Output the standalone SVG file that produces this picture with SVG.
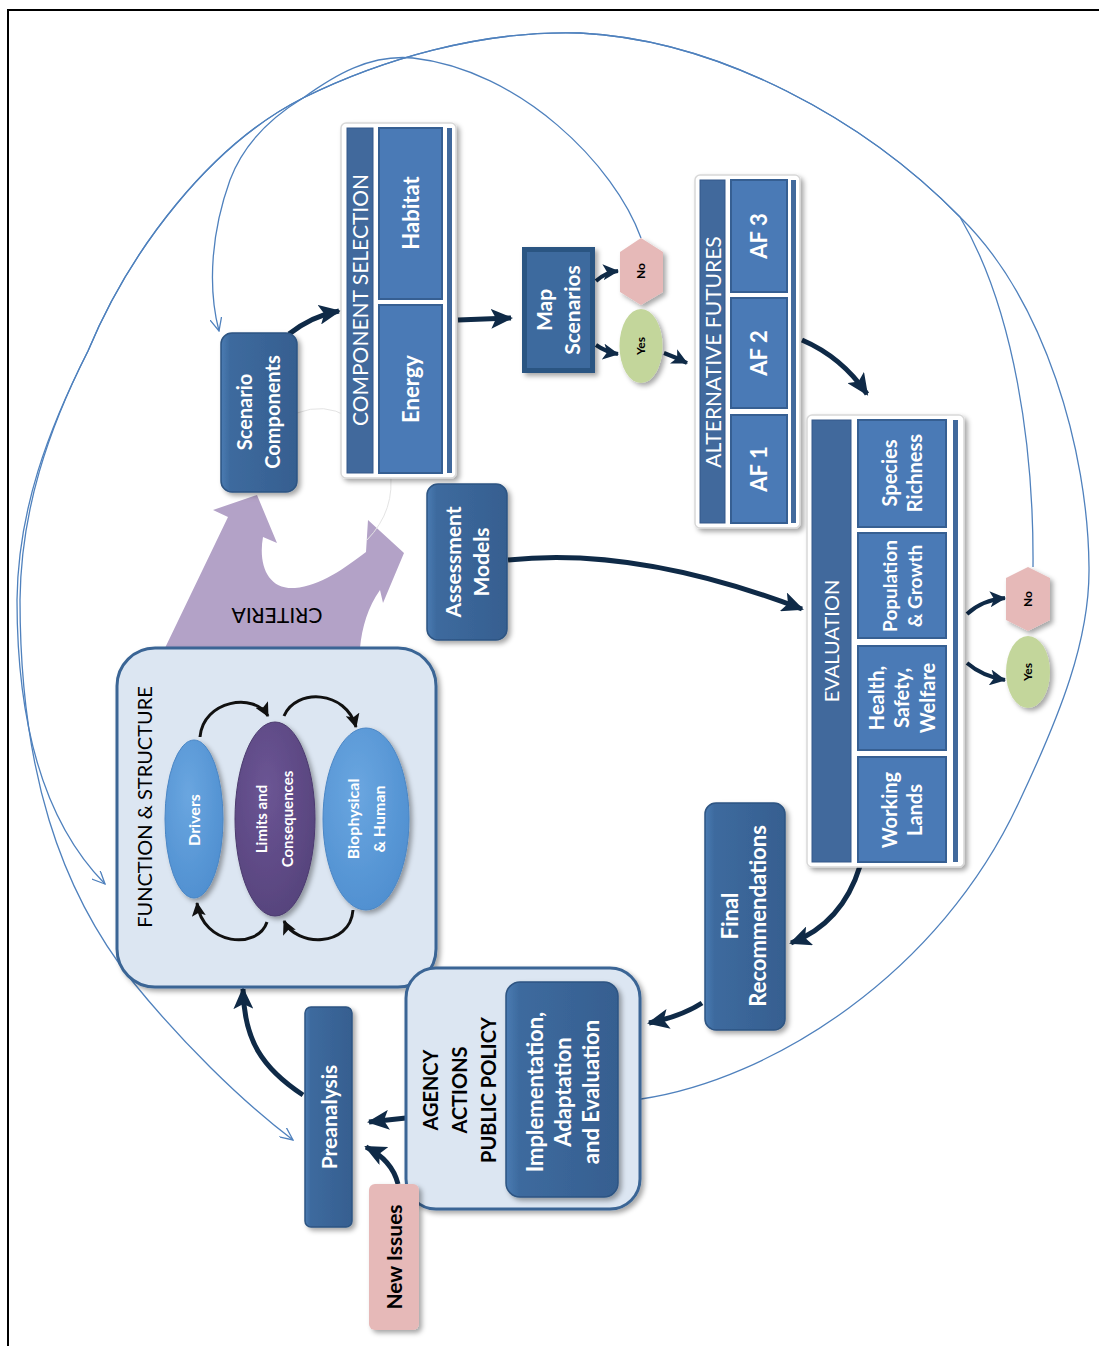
<svg xmlns="http://www.w3.org/2000/svg" width="1099" height="1346" viewBox="0 0 1099 1346">
<style>
text{font-family:Lato,"Liberation Sans",sans-serif}
.w{fill:#fff;font-weight:bold}
.k{fill:#000}
.kb{fill:#000;font-weight:bold}
.node{fill:url(#gNode);stroke:#2d5482;stroke-width:1.5}
.frame{fill:#fff;stroke:#d8d8d8;stroke-width:1.5}
.hdr{fill:#41699c;stroke:#35598a;stroke-width:1}
.cell{fill:#4a7ab6;stroke:#365f92;stroke-width:2}
.bar{fill:#41699c}
.light{fill:#dce6f2;stroke:#3a6595;stroke-width:3}
.thin{fill:none;stroke:#4f81bd;stroke-width:1.3}
.nav{fill:none;stroke:#0f2a47;stroke-width:5}
.navs{fill:none;stroke:#0f2a47;stroke-width:4}
.blk{fill:none;stroke:#111;stroke-width:3}
.sh{filter:url(#sh)}
</style>
<defs>
<filter id="sh" x="-20%" y="-20%" width="150%" height="150%"><feDropShadow dx="3" dy="3" stdDeviation="2.5" flood-color="#000" flood-opacity="0.35"/></filter>
<linearGradient id="gNode" x1="0" y1="0" x2="1" y2="0"><stop offset="0" stop-color="#4a7bb2"/><stop offset="0.12" stop-color="#3d6a9e"/><stop offset="1" stop-color="#365f90"/></linearGradient>
<radialGradient id="gBlue" cx="0.4" cy="0.35" r="0.7"><stop offset="0" stop-color="#6aa6e0"/><stop offset="1" stop-color="#4f8fd0"/></radialGradient>
<radialGradient id="gPurp" cx="0.4" cy="0.35" r="0.7"><stop offset="0" stop-color="#6b5594"/><stop offset="1" stop-color="#56437c"/></radialGradient>
<marker id="ah" markerUnits="userSpaceOnUse" markerWidth="24" markerHeight="20" refX="20" refY="10" orient="auto"><path d="M0,0 L22,10 L0,20 L5,10 z" fill="#0f2a47"/></marker>
<marker id="ahs" markerUnits="userSpaceOnUse" markerWidth="18" markerHeight="16" refX="15" refY="8" orient="auto"><path d="M0,0 L16,8 L0,16 L4,8 z" fill="#0f2a47"/></marker>
<marker id="ahk" markerUnits="userSpaceOnUse" markerWidth="16" markerHeight="14" refX="13" refY="7" orient="auto"><path d="M0,0 L14,7 L0,14 L3,7 z" fill="#111"/></marker>
<marker id="ahb" markerUnits="userSpaceOnUse" markerWidth="14" markerHeight="12" refX="13" refY="6" orient="auto"><path d="M0,0 L13,6 L0,12" fill="none" stroke="#4f81bd" stroke-width="1.3"/></marker>
</defs>
<rect width="1099" height="1346" fill="#fff"/>
<path d="M8,1346 L8,10 L1099,10" fill="none" stroke="#000" stroke-width="2"/>

<g id="criteria">
<path d="M165,648 L228,517 L213,510 L257,495 L277,543 L263,537 C 258,565 268,590 295,588 C 320,586 345,568 366,552 L368,520 L404,553 L383,603 L380,590 C 368,607 362,627 360,648 Z" fill="#b3a2c7"/>
<text class="k" font-size="21" transform="translate(277,615) rotate(180)" text-anchor="middle" y="7.5">CRITERIA</text>
</g>
<path d="M297,413 Q 352,392 390,470 Q 396,510 367,540" fill="none" stroke="#e4e4e4" stroke-width="1"/>

<g id="connectors">
<path class="thin" marker-end="url(#ahb)" d="M641,1099 C 770,1080 940,975 1020,800 C 1060,715 1090,640 1089,567 C 1088,450 1045,300 960,217 C 865,120 720,40 580,33 C 480,30 380,60 303,98 C 210,145 130,250 88,351 C 48,430 21,510 20,600 C 20,770 60,890 133,982 C 180,1040 240,1100 293,1140"/>
<path class="thin" marker-end="url(#ahb)" d="M1033,567 C 1034,450 1015,310 960,217 C 865,120 720,40 580,33 C 480,30 380,60 303,98 C 210,145 130,250 88,351 C 48,430 18,510 17,600 C 17,720 42,820 105,884"/>
<path class="thin" marker-end="url(#ahb)" d="M641,238 C 615,165 520,70 413,58 C 370,54 335,75 303,98 C 275,115 245,140 230,180 C 212,230 207,285 219,331"/>
<path class="nav" marker-end="url(#ah)" d="M289,334 Q 312,316 339,311"/>
<path class="nav" marker-end="url(#ah)" d="M458,320 L511,318"/>
<path class="navs" marker-end="url(#ahs)" d="M596,281 Q 606,272 618,271"/>
<path class="navs" marker-end="url(#ahs)" d="M596,345 Q 606,352 618,354"/>
<path class="navs" marker-end="url(#ahs)" d="M664,353 Q 675,357 687,363"/>
<path class="nav" marker-end="url(#ah)" d="M802,340 C 830,352 852,372 867,394"/>
<path class="nav" marker-end="url(#ah)" d="M508,560 C 600,550 700,570 802,609"/>
<path class="navs" marker-end="url(#ahs)" d="M967,614 Q 982,600 1005,598"/>
<path class="navs" marker-end="url(#ahs)" d="M967,663 Q 982,676 1005,680"/>
<path class="nav" marker-end="url(#ah)" d="M860,866 C 848,905 825,930 791,943"/>
<path class="nav" marker-end="url(#ah)" d="M702,1003 Q 682,1016 649,1023"/>
<path class="nav" marker-end="url(#ah)" d="M406,1118 L369,1122"/>
<path class="nav" marker-end="url(#ah)" d="M398,1184 Q 392,1160 366,1147"/>
<path class="nav" marker-end="url(#ah)" d="M303,1095 C 262,1068 244,1040 243,989"/>
</g>

<g id="scenario-components">
<rect class="node sh" x="221" y="333" width="76" height="159" rx="11"/>
<text class="w" font-size="20" transform="translate(259,412) rotate(-90)" text-anchor="middle"><tspan x="0" y="-7">Scenario</tspan><tspan x="0" y="21">Components</tspan></text>
</g>

<g id="component-selection">
<rect class="frame sh" x="341" y="123" width="115" height="355" rx="5"/>
<rect class="hdr" x="347" y="128" width="26" height="345"/>
<rect class="cell" x="379" y="128" width="63" height="171"/>
<rect class="cell" x="379" y="305" width="63" height="168"/>
<rect class="bar" x="447" y="128" width="5" height="345"/>
<text fill="#fff" font-size="21" transform="translate(360,300) rotate(-90)" text-anchor="middle" y="7.5">COMPONENT SELECTION</text>
<text class="w" font-size="22" transform="translate(411,213) rotate(-90)" text-anchor="middle" y="8">Habitat</text>
<text class="w" font-size="22" transform="translate(411,389) rotate(-90)" text-anchor="middle" y="8">Energy</text>
</g>

<g id="map-scenarios">
<rect x="522" y="247" width="73" height="126" fill="#2c5482" class="sh"/>
<rect x="527" y="252" width="63" height="116" fill="#3d6a9e"/>
<text class="w" font-size="21" transform="translate(558,310) rotate(-90)" text-anchor="middle"><tspan x="0" y="-6.5">Map</tspan><tspan x="0" y="21.5">Scenarios</tspan></text>
</g>

<g id="no-map">
<polygon class="sh" points="641,238 663,252 663,292 641,305 620,292 620,252" fill="#e6b9b8"/>
<text class="kb" font-size="12" transform="translate(641,271) rotate(-90)" text-anchor="middle" y="4">No</text>
</g>
<g id="yes-map">
<ellipse class="sh" cx="641" cy="346" rx="21.5" ry="37" fill="#c3d69b"/>
<text class="kb" font-size="12" transform="translate(641,346) rotate(-90)" text-anchor="middle" y="4">Yes</text>
</g>

<g id="alternative-futures">
<rect class="frame sh" x="695" y="175" width="105" height="353" rx="5"/>
<rect class="hdr" x="700" y="180" width="25" height="343"/>
<rect class="cell" x="731" y="180" width="56" height="112"/>
<rect class="cell" x="731" y="298" width="56" height="110"/>
<rect class="cell" x="731" y="415" width="56" height="108"/>
<rect class="bar" x="791" y="180" width="5" height="343"/>
<text fill="#fff" font-size="21" transform="translate(713,352) rotate(-90)" text-anchor="middle" y="7.5">ALTERNATIVE FUTURES</text>
<text class="w" font-size="22" transform="translate(759,236) rotate(-90)" text-anchor="middle" y="8">AF 3</text>
<text class="w" font-size="22" transform="translate(759,353) rotate(-90)" text-anchor="middle" y="8">AF 2</text>
<text class="w" font-size="22" transform="translate(759,469) rotate(-90)" text-anchor="middle" y="8">AF 1</text>
</g>

<g id="evaluation">
<rect class="frame sh" x="807" y="415" width="157" height="452" rx="5"/>
<rect class="hdr" x="812" y="420" width="39" height="442"/>
<rect class="cell" x="858" y="420" width="88" height="107"/>
<rect class="cell" x="858" y="533" width="88" height="105"/>
<rect class="cell" x="858" y="646" width="88" height="104"/>
<rect class="cell" x="858" y="757" width="88" height="105"/>
<rect class="bar" x="953" y="420" width="5" height="442"/>
<text fill="#fff" font-size="20" transform="translate(832,641) rotate(-90)" text-anchor="middle" y="7">EVALUATION</text>
<text class="w" font-size="20" transform="translate(902,473) rotate(-90)" text-anchor="middle"><tspan x="0" y="-5.5">Species</tspan><tspan x="0" y="19.5">Richness</tspan></text>
<text class="w" font-size="19" transform="translate(902,586) rotate(-90)" text-anchor="middle"><tspan x="0" y="-5.5">Population</tspan><tspan x="0" y="19.5">&amp; Growth</tspan></text>
<text class="w" font-size="20" transform="translate(902,698) rotate(-90)" text-anchor="middle"><tspan x="0" y="-18.5">Health,</tspan><tspan x="0" y="7">Safety,</tspan><tspan x="0" y="32.5">Welfare</tspan></text>
<text class="w" font-size="20" transform="translate(902,810) rotate(-90)" text-anchor="middle"><tspan x="0" y="-5.5">Working</tspan><tspan x="0" y="19.5">Lands</tspan></text>
</g>

<g id="no-eval">
<polygon class="sh" points="1028,567 1050,578 1050,620 1028,631 1006,620 1006,578" fill="#e6b9b8"/>
<text class="kb" font-size="12" transform="translate(1028,599) rotate(-90)" text-anchor="middle" y="4">No</text>
</g>
<g id="yes-eval">
<ellipse class="sh" cx="1028" cy="672" rx="22" ry="36" fill="#c3d69b"/>
<text class="kb" font-size="12" transform="translate(1028,672) rotate(-90)" text-anchor="middle" y="4">Yes</text>
</g>

<g id="assessment-models">
<rect class="node sh" x="427" y="484" width="80" height="156" rx="11"/>
<text class="w" font-size="21" transform="translate(467,562) rotate(-90)" text-anchor="middle"><tspan x="0" y="-6.5">Assessment</tspan><tspan x="0" y="21.5">Models</tspan></text>
</g>

<g id="final-recommendations">
<rect class="node sh" x="705" y="803" width="80" height="227" rx="11"/>
<text class="w" font-size="22" transform="translate(744,916) rotate(-90)" text-anchor="middle"><tspan x="0" y="-6.5">Final</tspan><tspan x="0" y="21.5">Recommendations</tspan></text>
</g>

<g id="function-structure">
<rect class="light sh" x="117" y="648" width="319" height="339" rx="38"/>
<text class="k" font-size="20" transform="translate(145,807) rotate(-90)" text-anchor="middle" y="7">FUNCTION &amp; STRUCTURE</text>
<ellipse class="sh" cx="194" cy="819" rx="29" ry="79" fill="url(#gBlue)" stroke="#4a86c5"/>
<ellipse class="sh" cx="275" cy="819" rx="40" ry="97" fill="url(#gPurp)" stroke="#4b3a6e"/>
<ellipse class="sh" cx="366" cy="819" rx="43" ry="91" fill="url(#gBlue)" stroke="#4a86c5"/>
<text class="w" font-size="16" transform="translate(194,820) rotate(-90)" text-anchor="middle" y="5.6">Drivers</text>
<text class="w" font-size="15" transform="translate(275,819) rotate(-90)" text-anchor="middle"><tspan x="0" y="-8">Limits and</tspan><tspan x="0" y="18">Consequences</tspan></text>
<text class="w" font-size="16" transform="translate(366,819) rotate(-90)" text-anchor="middle"><tspan x="0" y="-7.4">Biophysical</tspan><tspan x="0" y="18.6">&amp; Human</tspan></text>
<path class="blk" marker-end="url(#ahk)" d="M200,737 C 203,700 255,692 268,716"/>
<path class="blk" marker-end="url(#ahk)" d="M284,716 C 296,688 346,690 356,727"/>
<path class="blk" marker-end="url(#ahk)" d="M353,910 C 350,948 296,947 284,921"/>
<path class="blk" marker-end="url(#ahk)" d="M267,922 C 258,950 203,946 197,903"/>
</g>

<g id="agency-actions">
<rect class="light sh" x="406" y="968" width="234" height="241" rx="30"/>
<text class="kb" font-size="20" transform="translate(460,1090) rotate(-90)" text-anchor="middle"><tspan x="0" y="-22">AGENCY</tspan><tspan x="0" y="7">ACTIONS</tspan><tspan x="0" y="36">PUBLIC POLICY</tspan></text>
<rect class="node sh" x="506" y="982" width="112" height="215" rx="14"/>
<text class="w" font-size="22" transform="translate(563,1092) rotate(-90)" text-anchor="middle"><tspan x="0" y="-20.3">Implementation,</tspan><tspan x="0" y="7.7">Adaptation</tspan><tspan x="0" y="35.7">and Evaluation</tspan></text>
</g>

<g id="preanalysis">
<rect class="node sh" x="305" y="1007" width="47" height="220" rx="6"/>
<text class="w" font-size="21" transform="translate(329,1117) rotate(-90)" text-anchor="middle" y="7.5">Preanalysis</text>
</g>

<g id="new-issues">
<rect class="sh" x="369" y="1184" width="50" height="146" rx="6" fill="#e6b9b8"/>
<text class="kb" font-size="21" transform="translate(394,1257) rotate(-90)" text-anchor="middle" y="7.5">New Issues</text>
</g>
</svg>
